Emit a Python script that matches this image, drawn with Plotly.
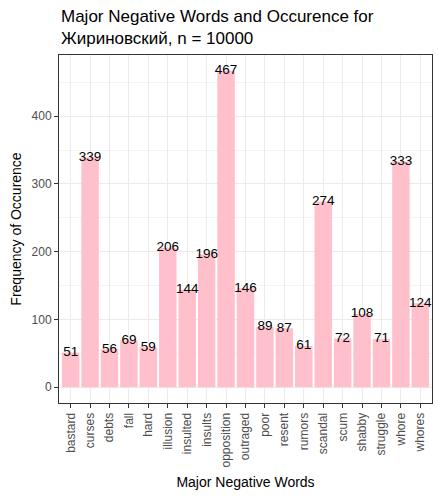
import plotly.graph_objects as go

words = ["bastard", "curses", "debts", "fall", "hard", "illusion", "insulted", "insults",
         "opposition", "outraged", "poor", "resent", "rumors", "scandal", "scum", "shabby",
         "struggle", "whore", "whores"]
counts = [51, 339, 56, 69, 59, 206, 144, 196, 467, 146, 89, 87, 61, 274, 72, 108, 71, 333, 124]
y_ticks = [0, 100, 200, 300, 400]

FONT = "Liberation Sans, Arial, sans-serif"

fig = go.Figure()
fig.add_trace(go.Bar(x=words, y=counts, marker=dict(color="pink", line=dict(width=0)),
                     width=0.9, hoverinfo="skip"))
fig.add_trace(go.Scatter(x=words, y=counts, mode="text", text=[str(c) for c in counts],
                         textposition="middle center",
                         textfont=dict(family=FONT, size=13.5, color="black"), hoverinfo="skip"))

fig.update_layout(
    width=438, height=500,
    margin=dict(l=59, r=6, t=55, b=97),
    paper_bgcolor="white", plot_bgcolor="white",
    showlegend=False,
    bargap=0.1,
    font=dict(family=FONT, color="black"),
    annotations=[dict(
        text="Major Negative Words and Occurence for<br>Жириновский, n = 10000",
        xref="paper", yref="paper", x=0, y=1, xanchor="left", yanchor="bottom",
        yshift=5, showarrow=False, align="left",
        font=dict(family=FONT, size=17, color="black"))],
)
fig.update_xaxes(
    type="category", range=[-0.6, 18.6],
    showgrid=True, gridcolor="#ebebeb", gridwidth=1,
    showline=True, linecolor="#333333", linewidth=1, mirror=True,
    ticks="outside", ticklen=4, tickcolor="#333333",
    tickangle=-90, tickfont=dict(family=FONT, size=12, color="#4d4d4d"),
    title=dict(text="Major Negative Words", font=dict(family=FONT, size=14, color="black"), standoff=10),
    zeroline=False,
)
fig.update_yaxes(
    range=[-23.35, 490.35], tickvals=y_ticks,
    showgrid=True, gridcolor="#ebebeb", gridwidth=1,
    minor=dict(dtick=50, tick0=0, showgrid=True, gridcolor="#f3f3f3", gridwidth=0.5),
    showline=True, linecolor="#333333", linewidth=1, mirror=True,
    ticks="outside", ticklen=4, tickcolor="#333333",
    tickfont=dict(family=FONT, size=12, color="#4d4d4d"),
    title=dict(text="Frequency of Occurence", font=dict(family=FONT, size=14, color="black"), standoff=6),
    zeroline=False,
)

fig.write_html("out.html", config={"displayModeBar": False},
               post_script="document.body.style.margin='0px';")
